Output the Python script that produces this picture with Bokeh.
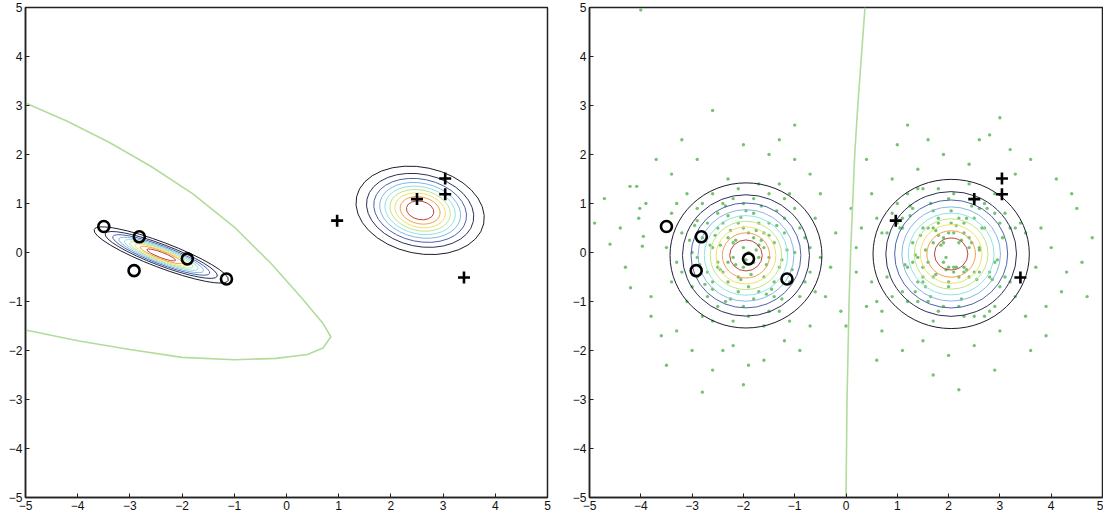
import numpy as np
from bokeh.plotting import figure
from bokeh.layouts import row
from bokeh.models import Range1d, ColumnDataSource
from bokeh.embed import file_html
from bokeh.resources import INLINE

# ---- data ----
o_x = [-3.50, -2.82, -2.92, -1.90, -1.15]
o_y = [0.53, 0.32, -0.37, -0.13, -0.54]
p_x = [3.04, 3.04, 2.50, 0.97, 3.40]
p_y = [1.51, 1.19, 1.09, 0.65, -0.51]

ticks = [-5, -4, -3, -2, -1, 0, 1, 2, 3, 4, 5]

# contour levels (fraction of peak density), outer -> inner
levels = [0.1, 0.2, 0.3, 0.4, 0.5, 0.6, 0.7, 0.8, 0.9]
level_colors = ["#1c1c2c", "#2a2f55", "#4b63a8", "#86b6e6", "#8fe3e6",
                "#bfe58a", "#f2e06a", "#f0a24a", "#b8463a"]

# Gaussian models: centre x, centre y, sigma major, sigma minor, angle (deg)
left_gauss_cx = [-2.40, 2.56]
left_gauss_cy = [-0.05, 0.86]
left_gauss_s1 = [0.64, 0.58]
left_gauss_s2 = [0.12, 0.41]
left_gauss_ang = [-20.8, -12.0]

right_gauss_cx = [-1.95, 2.05]
right_gauss_cy = [-0.06, -0.03]
right_gauss_s1 = [0.69, 0.71]
right_gauss_s2 = [0.69, 0.71]
right_gauss_ang = [0.0, 0.0]

# decision boundaries
left_bx = [-5.0, -4.2, -3.4, -2.6, -1.8, -1.0, -0.3, 0.3, 0.7, 0.85, 0.70, 0.40, -0.2, -1.0, -2.0, -3.0, -4.0, -5.0]
left_by = [3.05, 2.68, 2.25, 1.76, 1.20, 0.52, -0.22, -0.94, -1.45, -1.72, -1.95, -2.08, -2.16, -2.19, -2.14, -1.98, -1.80, -1.58]
right_bx = [0.37, 0.30, 0.23, 0.17, 0.13, 0.09, 0.06, 0.04, 0.02, 0.01, 0.0]
right_by = [5.0, 4.0, 3.0, 2.0, 1.0, 0.0, -1.0, -2.0, -3.0, -4.0, -5.0]

# samples (green dots) on the right panel, left cloud
samp_o_x = [-2.0, -1.8, -2.3, -1.6, -2.5, -2.1, -1.7, -2.4, -1.5, -2.6, -1.9, -2.2, -1.4, -2.0, -2.7,
            -1.6, -2.3, -1.8, -2.1, -1.3, -2.8, -1.9, -2.5, -1.5, -2.2, -1.7, -2.4, -2.0, -1.6, -2.6,
            -1.9, -2.3, -1.4, -2.7, -2.1, -1.2, -1.8, -2.5, -2.9, -1.7,
            -2.15, -1.75, -2.45, -1.55, -2.05, -1.35, -2.65, -1.85, -2.35, -1.25, -2.95, -1.65, -2.25, -1.45,
            -2.55, -1.95, -2.75, -1.15, -2.05, -1.75, -2.45, -1.55, -2.85, -1.05, -2.25, -1.65, -2.35, -1.95,
            -3.05, -1.35, -2.15, -2.6, -1.5, -2.0, -1.8, -2.3, -1.7, -2.5, -1.25, -2.9,
            -3.2, -3.0, -3.3, -2.9, -2.6, -2.1, -1.5, -1.0, -0.8, -0.7, -0.9, -1.3, -1.9, -2.5, -3.1,
            -3.4, -3.1, -2.3, -1.7, -1.2, -0.6, -0.5, -0.6, -1.1, -1.6, -2.2, -2.8, -3.4, -3.5, -1.0,
            -1.1, -1.2, -2.8, -3.0, -2.7, -2.0, -1.4, -1.3, -2.4, -3.2, -0.9, -1.8, -2.6, -0.8, -3.3,
            -1.5, -2.2, -0.7, -2.9, -1.1,
            -4.71, -4.21, -4.08, -4.02, -4.04, -4.6, -3.95, -3.97, -4.2, -4.0, -3.8, -3.6, -3.3, -3.0, -2.8,
            -2.6, -2.2, -1.9, -1.6, -1.2, -0.7, -0.4, -0.3, -0.2, -0.5, -0.7, -1.0, -1.5, -2.0, -2.6,
            -2.9, -3.4, -3.7, -3.9, -4.3, -4.4, -3.8, -2.4, -1.3, -0.9, -0.1, -3.2, -4.9, -3.5, -2.0,
            -1.0, 0.2]
samp_o_y = [0.1, -0.2, 0.3, 0.4, -0.2, -0.5, 0.6, 0.6, -0.1, 0.1, 0.4, -0.1, 0.2, -0.3, -0.4,
            -0.5, -0.6, 0.8, 0.6, -0.3, 0.3, -0.7, 0.5, 0.6, 0.2, -0.1, -0.4, 0.5, 0.1, -0.6,
            0.0, -0.2, -0.6, 0.6, -0.8, 0.4, 0.3, 0.8, -0.1, -0.8,
            0.25, 0.05, -0.35, -0.25, 0.72, 0.55, 0.15, -0.45, 0.95, -0.15, 0.55, 0.95, -0.95, -0.75,
            0.35, -0.15, -0.65, 0.05, -0.55, 0.45, 0.15, -0.85, -0.25, -0.35, 0.45, 0.25, -1.0, 0.85,
            0.25, 0.85, -0.25, -0.75, 0.35, 1.0, -0.95, 0.75, 0.15, -0.3, -0.95, 0.65,
            0.4, -0.7, -0.2, 0.9, 1.2, 1.3, 1.2, 0.9, 0.3, -0.4, -0.9, -1.2, -1.3, -1.1, -1.0,
            0.8, 1.2, 1.5, 1.4, 1.1, 0.7, -0.1, -0.8, -1.4, -1.5, -1.4, -1.3, -0.6, 0.1, 0.0,
            -0.6, 0.7, 1.0, 0.0, -0.9, -1.1, -0.9, 1.4, 1.0, -0.4, 0.5, 1.1, -1.4, -0.6, 1.0,
            -1.2, 1.1, 0.1, -0.5, 1.2,
            1.1, 1.35, 1.35, 0.9, 0.7, 0.17, 0.33, 0.13, -0.72, 4.95, -1.3, -1.7, -1.6, -2.0, -2.85,
            -2.4, -1.9, -2.3, -2.2, -1.8, -1.5, -0.9, -0.3, 0.4, 1.2, 1.6, 1.9, 2.0, 2.2, 2.9,
            1.9, 1.6, 1.9, 1.0, -0.3, 0.5, -0.9, -2.0, 2.3, -2.0, -1.2, 2.3, 0.6, -2.3, -2.7,
            2.6, 0.1]
# samples (green dots) on the right panel, right cloud
samp_p_x = [2.0, 2.2, 1.7, 2.4, 1.5, 1.9, 2.3, 1.6, 2.5, 1.4, 2.1, 1.8, 2.6, 2.0, 1.3,
            2.4, 1.7, 2.2, 1.9, 2.7, 1.2, 2.1, 1.5, 2.5, 1.8, 2.3, 1.6, 2.0, 2.4, 1.4,
            2.1, 1.7, 2.6, 1.3, 1.9, 2.8, 2.2, 1.5, 1.1, 2.3,
            2.15, 1.75, 2.45, 1.55, 2.05, 1.35, 2.65, 1.85, 2.35, 1.25, 2.95, 1.65, 2.25, 1.45,
            2.55, 1.95, 2.75, 1.15, 2.05, 1.75, 2.45, 1.55, 2.85, 1.05, 2.25, 1.65, 2.35, 1.95,
            3.05, 1.35, 2.15, 2.6, 1.5, 2.0, 1.8, 2.3, 1.7, 2.5, 1.25, 2.9,
            0.8, 1.0, 0.7, 1.1, 1.4, 1.9, 2.5, 3.0, 3.2, 3.3, 3.1, 2.7, 2.1, 1.5, 0.9,
            0.6, 0.9, 1.7, 2.3, 2.8, 3.4, 3.5, 3.4, 2.9, 2.4, 1.8, 1.2, 0.6, 0.5, 3.0,
            2.9, 2.8, 1.2, 1.0, 1.3, 2.0, 2.6, 2.7, 1.6, 0.8, 3.1, 2.2, 1.4, 3.2, 0.7,
            2.5, 1.8, 3.3, 1.1, 2.9,
            4.8, 4.5, 4.3, 4.1, 3.9, 4.2, 3.8, 3.6, 3.2, 2.8, 2.4, 1.9, 1.4, 0.9, 0.5,
            0.3, 0.2, 0.4, 0.7, 1.1, 1.5, 2.0, 2.5, 3.0, 3.5, 3.7, 2.2, 1.2, 3.0, 3.6,
            4.6, 0.1, 0.0, 1.7, 2.6, 4.0, 4.4, 1.0, 3.3, 0.6, 3.9, 2.9, 1.6, 4.7, 0.4]
samp_p_y = [-0.3, 0.2, -0.5, 0.1, 0.5, 0.3, -0.4, -0.2, 0.7, -0.6, -0.3, 0.6, -0.4, 0.4, 0.2,
            0.3, 0.2, -0.5, -0.2, 0.5, -0.3, 0.4, -0.6, -0.4, 0.7, 0.4, 0.5, -0.7, -0.5, -0.1,
            -0.4, 0.5, 0.1, -0.2, 0.2, -0.4, 0.7, -0.3, 0.5, 0.6,
            -0.3, 0.45, 0.2, -0.7, 0.85, -0.05, 0.5, 0.15, -0.35, 0.75, -0.15, -0.9, 0.25, 0.35,
            -0.55, -0.1, 0.9, -0.25, 0.6, -0.45, 0.95, 0.05, -0.55, 0.5, -0.95, 1.0, 0.7, -0.35,
            0.3, -0.8, 0.55, 0.05, -0.5, -0.6, 0.35, -0.3, 0.85, 1.05, 0.95, -0.2,
            -0.5, 0.6, 0.4, -0.8, -1.0, -1.1, -1.3, -0.7, -0.6, 0.5, 0.8, 1.0, 1.2, 1.3, 0.8,
            -1.0, -0.9, -1.4, -1.3, -1.2, -0.5, 0.4, 0.6, 1.2, 1.4, 1.3, 1.2, 0.7, -0.6, 0.6,
            0.8, -0.5, -1.0, 1.0, 0.9, 1.1, 0.9, -1.3, -1.0, 0.4, -0.5, -1.1, 1.3, 0.5, -1.2,
            1.1, -1.2, -0.9, 0.7, -1.1,
            0.3, 0.9, -0.4, 1.5, -1.1, -0.8, 0.5, 1.9, 2.1, 2.4, 1.8, 2.0, 1.7, 1.5, 1.2,
            0.5, -0.4, -1.1, -1.6, -2.0, -1.8, -2.1, -1.9, -1.6, -1.3, -0.3, -2.8, 2.6, 2.75, -2.0,
            -0.2, 0.9, -1.5, -2.5, 2.3, 0.1, 1.2, 2.2, 1.6, -2.2, -1.7, -2.4, 2.3, -0.9, 1.9]
# ------------------------------------


def ellipse_source(cx, cy, s1, s2, ang):
    d = dict(x=[], y=[], w=[], h=[], a=[], c=[])
    for i in range(len(cx)):
        for f, col in zip(levels, level_colors):
            r = np.sqrt(-2.0 * np.log(f))
            d["x"].append(cx[i]); d["y"].append(cy[i])
            d["w"].append(2 * r * s1[i]); d["h"].append(2 * r * s2[i])
            d["a"].append(ang[i]); d["c"].append(col)
    return ColumnDataSource(d)


def make_fig(width, right_border):
    p = figure(width=width, height=512, output_backend="svg", toolbar_location=None,
               x_range=Range1d(-5, 5), y_range=Range1d(-5, 5),
               min_border_left=25, min_border_right=right_border,
               min_border_top=7, min_border_bottom=0)
    p.grid.visible = False
    p.outline_line_color = "#222222"
    p.outline_line_width = 1.5
    p.background_fill_color = "white"
    for ax in (p.xaxis[0], p.yaxis[0]):
        ax.ticker = ticks
        ax.major_tick_in = 4
        ax.major_tick_out = 0
        ax.minor_tick_line_color = None
        ax.axis_line_color = "#222222"
        ax.axis_line_width = 1.5
        ax.major_tick_line_color = "#222222"
        ax.major_label_text_font = "Liberation Sans"
        ax.major_label_text_font_size = "12px"
        ax.major_label_text_color = "#111111"
        ax.major_label_standoff = 3
    return p


left = make_fig(564, 17)
src_l = ellipse_source(left_gauss_cx, left_gauss_cy, left_gauss_s1, left_gauss_s2, left_gauss_ang)
left.ellipse(x="x", y="y", width="w", height="h", angle="a", angle_units="deg",
             source=src_l, fill_color=None, line_color="c", line_width=1)
left.line(left_bx, left_by, line_color="#b2dc9c", line_width=1.6)
left.scatter(o_x, o_y, marker="circle", size=11, fill_color=None, line_color="black", line_width=2.6)
left.scatter(p_x, p_y, marker="cross", size=12, line_color="black", line_width=2.6)

right = make_fig(539, 1)
right.scatter(samp_o_x, samp_o_y, marker="circle", size=3.4, fill_color="#5cb85a", line_color=None, alpha=0.85)
right.scatter(samp_p_x, samp_p_y, marker="circle", size=3.4, fill_color="#5cb85a", line_color=None, alpha=0.85)
src_r = ellipse_source(right_gauss_cx, right_gauss_cy, right_gauss_s1, right_gauss_s2, right_gauss_ang)
right.ellipse(x="x", y="y", width="w", height="h", angle="a", angle_units="deg",
              source=src_r, fill_color=None, line_color="c", line_width=1)
right.line(right_bx, right_by, line_color="#b2dc9c", line_width=1.6)
right.scatter(o_x, o_y, marker="circle", size=11, fill_color=None, line_color="black", line_width=2.6)
right.scatter(p_x, p_y, marker="cross", size=12, line_color="black", line_width=2.6)

layout = row(left, right)
open("out.html", "w").write(file_html(layout, INLINE))
